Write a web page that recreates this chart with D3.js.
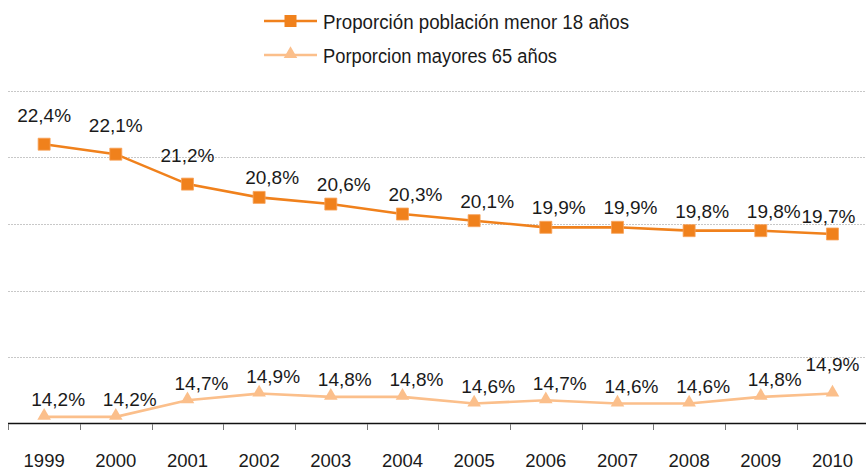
<!DOCTYPE html>
<html>
<head>
<meta charset="utf-8">
<script src="https://cdn.jsdelivr.net/npm/d3@7"></script>
<style>
  body { margin: 0; background: #fff; }
  svg text { font-family: "Liberation Sans", Arial, sans-serif; fill: #1a1a1a; }
</style>
</head>
<body>
<div id="chart"></div>
<script>
const years = ['1999', '2000', '2001', '2002', '2003', '2004', '2005', '2006', '2007', '2008', '2009', '2010'];
const under18 = [22.4, 22.1, 21.2, 20.8, 20.6, 20.3, 20.1, 19.9, 19.9, 19.8, 19.8, 19.7];
const over65 = [14.2, 14.2, 14.7, 14.9, 14.8, 14.8, 14.6, 14.7, 14.6, 14.6, 14.8, 14.9];
const gridTicks = [16, 18, 20, 22, 24];
const seriesNames = ['Proporción población menor 18 años', 'Porporcion mayores 65 años'];

const width = 866;
const height = 470;
const darkOrange = '#f0811c';
const lightOrange = '#fbbf8b';

// labels that sit straight above their point (the rest sit above-right)
const centeredUpper = ['1999', '2000', '2001'];
const centeredLower = ['2010'];

var x = d3.scaleBand()
  .domain(years)
  .range([8.3, 868.3]);

var y = d3.scaleLinear()
  .domain([14, 24])
  .range([423.5, 91]);

var fmt = function (v) {
  return d3.format('.1f')(v).replace('.', ',') + '%';
};
var cx = function (yr) { return x(yr) + x.bandwidth() / 2; };

var svg = d3.select('#chart')
  .append('svg')
  .attr('width', width)
  .attr('height', height);

// gridlines
svg.append('g')
  .selectAll('line')
  .data(gridTicks)
  .enter()
  .append('line')
  .attr('x1', 8)
  .attr('x2', width)
  .attr('y1', function (d) { return Math.round(y(d)) + 0.5; })
  .attr('y2', function (d) { return Math.round(y(d)) + 0.5; })
  .attr('stroke', '#c8c8c8')
  .attr('stroke-width', 1)
  .attr('stroke-dasharray', '2,1');

// x axis: labels from the band scale, ticks on band edges
var axis = svg.append('g')
  .attr('transform', 'translate(0,423.5)')
  .call(d3.axisBottom(x).tickSize(0));
axis.select('.domain').remove();
axis.selectAll('text')
  .attr('y', 43.5)
  .attr('dy', 0)
  .attr('font-size', '18.5px')
  .attr('font-family', '"Liberation Sans", Arial, sans-serif')
  .attr('fill', '#1a1a1a');

svg.append('line')
  .attr('x1', 8)
  .attr('x2', width)
  .attr('y1', 423.5)
  .attr('y2', 423.5)
  .attr('stroke', '#111')
  .attr('stroke-width', 1.3);

svg.append('g')
  .selectAll('line')
  .data(years)
  .enter()
  .append('line')
  .attr('x1', function (d) { return Math.round(x(d)) + 0.5; })
  .attr('x2', function (d) { return Math.round(x(d)) + 0.5; })
  .attr('y1', 424)
  .attr('y2', 430)
  .attr('stroke', '#777')
  .attr('stroke-width', 1);

// lines
var line = d3.line()
  .x(function (d) { return cx(d.year); })
  .y(function (d) { return y(d.value); });

var upper = years.map(function (yr, i) { return { year: yr, value: under18[i] }; });
var lower = years.map(function (yr, i) { return { year: yr, value: over65[i] }; });

svg.append('path')
  .datum(lower)
  .attr('d', line)
  .attr('fill', 'none')
  .attr('stroke', lightOrange)
  .attr('stroke-width', 2.6);

svg.append('path')
  .datum(upper)
  .attr('d', line)
  .attr('fill', 'none')
  .attr('stroke', darkOrange)
  .attr('stroke-width', 2.6);

// markers
var square = d3.symbol().type(d3.symbolSquare).size(144);
var triangle = d3.symbol().type(d3.symbolTriangle).size(80);

svg.append('g')
  .selectAll('path')
  .data(lower)
  .enter()
  .append('path')
  .attr('d', triangle)
  .attr('transform', function (d) { return 'translate(' + cx(d.year) + ',' + (y(d.value) - 1) + ')'; })
  .attr('fill', lightOrange);

svg.append('g')
  .selectAll('path')
  .data(upper)
  .enter()
  .append('path')
  .attr('d', square)
  .attr('transform', function (d) { return 'translate(' + cx(d.year) + ',' + y(d.value) + ')'; })
  .attr('fill', darkOrange)
  .attr('stroke', '#f7a25a')
  .attr('stroke-width', 0.8);

// data labels
svg.append('g')
  .selectAll('text')
  .data(upper)
  .enter()
  .append('text')
  .text(function (d) { return fmt(d.value); })
  .attr('x', function (d) {
    if (centeredUpper.indexOf(d.year) >= 0) return cx(d.year);
    if (d.year === '2010') return cx(d.year) - 4;
    return cx(d.year) + 13;
  })
  .attr('y', function (d) {
    if (centeredUpper.indexOf(d.year) >= 0) return y(d.value) - 22;
    if (d.year === '2010') return y(d.value) - 11;
    return y(d.value) - 13;
  })
  .attr('font-size', '19px')
  .attr('text-anchor', 'middle');

svg.append('g')
  .selectAll('text')
  .data(lower)
  .enter()
  .append('text')
  .text(function (d) { return fmt(d.value); })
  .attr('x', function (d) {
    return centeredLower.indexOf(d.year) >= 0 ? cx(d.year) : cx(d.year) + 14;
  })
  .attr('y', function (d) {
    return centeredLower.indexOf(d.year) >= 0 ? y(d.value) - 23 : y(d.value) - 10.5;
  })
  .attr('font-size', '19px')
  .attr('text-anchor', 'middle');

// legend
var legendWidths = [306, 234];
var legend = svg.append('g')
  .selectAll('g')
  .data(seriesNames)
  .enter()
  .append('g')
  .attr('transform', function (d, i) { return 'translate(264,' + (21 + i * 34) + ')'; });

legend.append('line')
  .attr('x1', 0)
  .attr('x2', 53)
  .attr('stroke', function (d, i) { return i === 0 ? darkOrange : lightOrange; })
  .attr('stroke-width', 2.6);

legend.append('path')
  .attr('d', function (d, i) { return i === 0 ? square() : triangle(); })
  .attr('transform', function (d, i) { return i === 0 ? 'translate(26.5,0)' : 'translate(26.5,-1)'; })
  .attr('fill', function (d, i) { return i === 0 ? darkOrange : lightOrange; });

legend.append('text')
  .text(function (d) { return d; })
  .attr('x', 59)
  .attr('y', 7.5)
  .attr('font-size', '20px')
  .attr('textLength', function (d, i) { return legendWidths[i]; })
  .attr('lengthAdjust', 'spacingAndGlyphs');
</script>
</body>
</html>
